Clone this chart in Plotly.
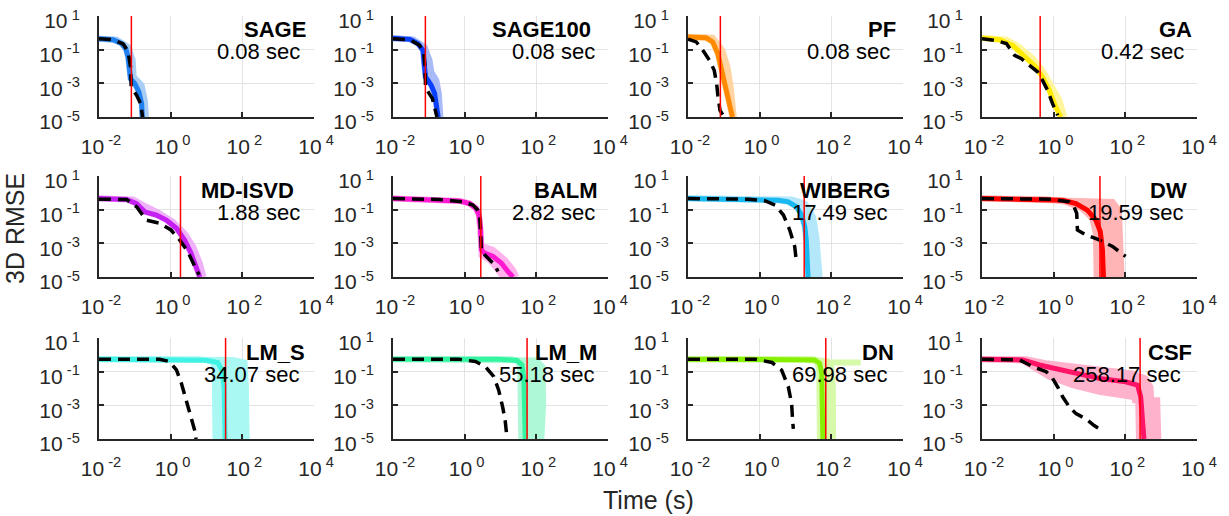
import plotly.graph_objects as go

W, H = 1229, 516

names = ["SAGE", "SAGE100", "PF", "GA", "MD-ISVD", "BALM", "WIBERG", "DW", "LM_S", "LM_M", "DN", "CSF"]
times = [0.08, 0.08, 0.08, 0.42, 1.88, 2.82, 17.49, 19.59, 34.07, 55.18, 69.98, 258.17]
colors = ["#1f80ef", "#0a40ff", "#ff8a00", "#ffea00", "#c51ff2", "#ff1ad2", "#1ab8f0", "#ff0000",
          "#40f2e6", "#33f5a0", "#86f000", "#ff1468"]
band_colors = ["#aacdf6", "#a9baf9", "#ffd4a0", "#fff59c", "#efb2f8", "#ffb2ec", "#b5e7fb", "#ffb5b5",
               "#aaf8f3", "#aef8d8", "#d6faa9", "#ffb2cc"]

xtick_vals = [1e-2, 1, 1e2, 1e4]
xtick_exps = ["-2", "0", "2", "4"]
ytick_vals = [1e1, 1e-1, 1e-3, 1e-5]
ytick_exps = ["1", "-1", "-3", "-5"]

# ---- SAGE
SAGE_med_t = [0.01, 0.025, 0.043, 0.056, 0.065, 0.069, 0.076, 0.1, 0.13, 0.155, 0.162]
SAGE_med_v = [0.45, 0.39, 0.23, 0.115, 0.036, 0.0059, 0.0019, 9.5e-4, 3.1e-4, 6.2e-5, 1e-5]
SAGE_slow_t = [0.01, 0.031, 0.065, 0.087, 0.093, 0.155, 0.19, 0.204]
SAGE_slow_v = [0.45, 0.39, 0.145, 0.023, 0.0024, 7.6e-4, 9.8e-5, 1e-5]
SAGE_best_t = [0.01, 0.025, 0.048, 0.065, 0.076, 0.079, 0.112, 0.145, 0.165]
SAGE_best_v = [0.45, 0.39, 0.21, 0.072, 0.0093, 6.6e-4, 1.95e-4, 6.2e-5, 1e-5]
# ---- SAGE100
SAGE100_med_t = [0.01, 0.030, 0.050, 0.069, 0.076, 0.081, 0.095, 0.117, 0.145, 0.17, 0.182]
SAGE100_med_v = [0.47, 0.41, 0.23, 0.091, 0.0093, 0.0024, 0.0015, 7.6e-4, 2.5e-4, 3.9e-5, 1e-5]
SAGE100_slow_t = [0.01, 0.036, 0.076, 0.105, 0.117, 0.162, 0.19, 0.21]
SAGE100_slow_v = [0.47, 0.41, 0.145, 0.023, 0.0047, 0.0015, 2.5e-4, 1e-5]
SAGE100_best_t = [0.01, 0.030, 0.055, 0.072, 0.078, 0.081, 0.126, 0.162, 0.168]
SAGE100_best_v = [0.45, 0.39, 0.18, 0.072, 0.0093, 5.5e-4, 1.23e-4, 1.26e-5, 1e-5]
# ---- PF
PF_med_t = [0.01, 0.032, 0.049, 0.068, 0.083, 0.102, 0.126, 0.155, 0.174]
PF_med_v = [0.56, 0.51, 0.29, 0.058, 0.0093, 0.0015, 1.95e-4, 2.5e-5, 1e-5]
PF_slow_t = [0.01, 0.049, 0.091, 0.126, 0.155, 0.19]
PF_slow_v = [0.56, 0.51, 0.091, 0.0093, 6e-4, 1e-5]
PF_best_t = [0.01, 0.017, 0.026, 0.040, 0.054, 0.063, 0.068, 0.078, 0.102]
PF_best_v = [0.42, 0.29, 0.091, 0.023, 0.0059, 9.5e-4, 1.95e-4, 2.5e-5, 1e-5]
# ---- GA
GA_med_t = [0.01, 0.031, 0.072, 0.17, 0.32, 0.49, 0.76, 1.15, 1.58]
GA_med_v = [0.49, 0.39, 0.18, 0.036, 0.0093, 0.0024, 3.8e-4, 3.9e-5, 1e-5]
GA_slow_t = [0.01, 0.048, 0.11, 0.26, 0.49, 0.93, 1.45, 2.0]
GA_slow_v = [0.49, 0.39, 0.145, 0.030, 0.0059, 6e-4, 9.8e-5, 1e-5]
GA_best_t = [0.01, 0.025, 0.048, 0.065, 0.081, 0.123, 0.21, 0.36, 0.49, 0.68, 0.93, 1.29]
GA_best_v = [0.45, 0.35, 0.23, 0.091, 0.046, 0.030, 0.0117, 0.0047, 0.0015, 3.8e-4, 6.2e-5, 1.26e-5]
# ---- MD-ISVD
MDISVD_med_t = [0.01, 0.059, 0.112, 0.17, 0.19, 0.40, 0.76, 1.45, 2.45, 3.7, 5.1, 6.5]
MDISVD_med_v = [0.46, 0.40, 0.23, 0.093, 0.074, 0.048, 0.024, 0.0078, 0.0016, 2.6e-4, 4.3e-5, 1e-5]
MDISVD_slow_t = [0.01, 0.089, 0.21, 0.49, 1.15, 2.45, 4.2, 6.5, 8.3]
MDISVD_slow_v = [0.46, 0.40, 0.148, 0.060, 0.019, 0.0039, 6.5e-4, 6.6e-5, 1e-5]
MDISVD_best_t = [0.01, 0.059, 0.112, 0.21, 0.49, 1.02, 1.78, 3.0, 4.7, 6.2]
MDISVD_best_v = [0.42, 0.40, 0.148, 0.024, 0.0155, 0.0062, 0.0016, 3.2e-4, 4.3e-5, 1.35e-5]
# ---- BALM
BALM_med_t = [0.01, 0.20, 0.72, 1.38, 2.1, 2.5, 2.75, 2.95, 3.6, 6.2, 10.5, 16.2, 22.4]
BALM_med_v = [0.46, 0.40, 0.33, 0.23, 0.117, 0.048, 0.0098, 4.1e-4, 2.6e-4, 1.66e-4, 6.8e-5, 2.1e-5, 1e-5]
BALM_fast_t = [0.01, 0.20, 0.72, 1.38, 2.1, 2.5, 2.75, 2.95, 5.0, 8.5, 11.7]
BALM_fast_v = [0.46, 0.40, 0.33, 0.23, 0.117, 0.048, 0.0098, 2.0e-4, 1.05e-4, 2.7e-5, 1e-5]
BALM_slow_t = [0.01, 0.20, 0.72, 1.38, 2.1, 2.5, 2.75, 2.95, 6.2, 13.2, 22.4, 27.5]
BALM_slow_v = [0.46, 0.40, 0.33, 0.23, 0.117, 0.048, 0.0098, 7.1e-4, 4.1e-4, 1.05e-4, 2.7e-5, 1e-5]
BALM_best_t = [0.01, 0.20, 0.89, 1.70, 2.34, 2.63, 2.82, 2.95, 4.5, 6.9, 8.5]
BALM_best_v = [0.46, 0.40, 0.29, 0.186, 0.093, 0.038, 0.0025, 3.2e-4, 1.3e-4, 5.2e-5, 2.1e-5]
# ---- WIBERG
WIBERG_med_t = [0.01, 0.50, 3.3, 6.3, 10.7, 14.8, 18.2, 20, 21.4, 22.4]
WIBERG_med_v = [0.46, 0.42, 0.36, 0.29, 0.148, 0.048, 0.0098, 0.0016, 1.05e-4, 1e-5]
WIBERG_slow_t = [0.01, 1.45, 7.8, 18.2, 31, 38, 44, 47]
WIBERG_slow_v = [0.48, 0.46, 0.40, 0.23, 0.038, 0.0025, 1.05e-4, 1e-5]
WIBERG_best_t = [0.01, 0.50, 1.45, 2.7, 4.6, 6.9, 9.5, 10.7]
WIBERG_best_v = [0.46, 0.42, 0.33, 0.186, 0.048, 0.0062, 6.5e-4, 6.6e-5]
# ---- DW
DW_med_t = [0.01, 0.62, 1.78, 4.2, 8.7, 15.1, 20, 23, 24.5]
DW_med_v = [0.46, 0.42, 0.36, 0.23, 0.093, 0.024, 0.0049, 4.1e-4, 1e-5]
DW_fast_t = [0.01, 0.62, 2.2, 6.3, 12, 15.1, 15.8]
DW_fast_v = [0.46, 0.42, 0.29, 0.117, 0.030, 0.0038, 1e-5]
DW_slow_t = [0.01, 2.2, 44, 66, 74, 79]
DW_slow_v = [0.48, 0.36, 0.29, 0.093, 0.001, 1e-5]
DW_best_t = [0.01, 0.87, 2.72, 3.7, 4.4, 4.6, 7.9, 18.6, 44, 102]
DW_best_v = [0.46, 0.42, 0.29, 0.148, 0.060, 0.0062, 0.0032, 0.0016, 6.5e-4, 1.66e-4]
# ---- LM_S
LMS_med_t = [0.01, 0.76, 9.8, 20.4, 26.9, 30.9, 33.1]
LMS_med_v = [0.55, 0.55, 0.48, 0.35, 0.126, 0.0126, 1e-5]
LMS_fast_t = [0.01, 6.3, 15.1, 17, 17.8]
LMS_fast_v = [0.55, 0.55, 0.40, 0.126, 1e-5]
LMS_slow_t = [0.01, 6.3, 54, 115, 126, 132]
LMS_slow_v = [0.55, 0.55, 0.50, 0.35, 0.0126, 1e-5]
LMS_best_t = [0.01, 0.49, 0.93, 1.45, 2.0, 2.75, 3.7, 4.7, 5.1]
LMS_best_v = [0.55, 0.55, 0.40, 0.126, 0.020, 0.0020, 2.0e-4, 3.2e-5, 1e-5]
# ---- LM_M
LMM_med_t = [0.01, 8.9, 29, 40, 45, 49]
LMM_med_v = [0.55, 0.55, 0.46, 0.25, 0.032, 1e-5]
LMM_fast_t = [0.01, 21, 32, 35.5, 38]
LMM_fast_v = [0.55, 0.55, 0.40, 0.126, 1e-5]
LMM_slow_t = [0.01, 21, 102, 148, 155, 138]
LMM_slow_v = [0.55, 0.55, 0.46, 0.20, 0.00126, 1e-5]
LMM_best_t = [0.01, 0.69, 2.0, 3.8, 6.5, 8.9, 11.5, 13.5, 15.1]
LMM_best_v = [0.55, 0.55, 0.40, 0.20, 0.050, 0.0079, 7.9e-4, 1.26e-4, 1.26e-5]
# ---- DN
DN_med_t = [0.01, 11.7, 34, 47, 54, 58]
DN_med_v = [0.55, 0.55, 0.50, 0.32, 0.079, 1e-5]
DN_fast_t = [0.01, 20, 40, 46, 48]
DN_fast_v = [0.55, 0.55, 0.40, 0.126, 1e-5]
DN_slow_t = [0.01, 27.5, 79, 98, 110, 112]
DN_slow_v = [0.55, 0.55, 0.40, 0.20, 0.0126, 1e-5]
DN_stall_t = [0.01, 27.5, 65, 661]
DN_stall_v = [0.55, 0.55, 0.35, 0.35]
DN_best_t = [0.01, 0.76, 2.2, 4.1, 6.3, 7.8, 8.3, 8.7]
DN_best_v = [0.55, 0.55, 0.35, 0.126, 0.0126, 0.00126, 1.26e-4, 4e-5]
# ---- CSF
CSF_med_t = [0.01, 0.138, 0.40, 1.15, 4.2, 18.6, 102, 219, 269, 309, 331]
CSF_med_v = [0.55, 0.50, 0.25, 0.158, 0.079, 0.040, 0.025, 0.0158, 0.0032, 1.26e-4, 1e-5]
CSF_fast_t = [0.01, 0.138, 0.26, 0.76, 3.4, 18.6, 155, 229, 240]
CSF_fast_v = [0.55, 0.46, 0.20, 0.050, 0.0158, 0.0063, 0.0032, 0.0020, 1e-5]
CSF_slow_t = [0.01, 0.17, 0.60, 3.4, 29, 155, 363, 501, 631]
CSF_slow_v = [0.55, 0.55, 0.32, 0.20, 0.126, 0.079, 0.040, 0.0126, 1e-5]
CSF_stall_t = [155, 776, 832]
CSF_stall_v = [0.0020, 0.0020, 1e-5]
CSF_best_t = [0.01, 0.112, 0.26, 0.62, 0.93, 1.29, 1.78, 2.75, 4.2, 7.9, 13.5, 22.9]
CSF_best_v = [0.55, 0.50, 0.20, 0.10, 0.040, 0.0126, 0.0032, 7.9e-4, 3.2e-4, 1.58e-4, 6.3e-5, 3.2e-5]

# (median, fast run, slow run, extra runs, best run)
series = [
    ((SAGE_med_t, SAGE_med_v), (SAGE_med_t, SAGE_med_v), (SAGE_slow_t, SAGE_slow_v), [], (SAGE_best_t, SAGE_best_v)),
    ((SAGE100_med_t, SAGE100_med_v), (SAGE100_med_t, SAGE100_med_v), (SAGE100_slow_t, SAGE100_slow_v), [], (SAGE100_best_t, SAGE100_best_v)),
    ((PF_med_t, PF_med_v), (PF_med_t, PF_med_v), (PF_slow_t, PF_slow_v), [], (PF_best_t, PF_best_v)),
    ((GA_med_t, GA_med_v), (GA_med_t, GA_med_v), (GA_slow_t, GA_slow_v), [], (GA_best_t, GA_best_v)),
    ((MDISVD_med_t, MDISVD_med_v), (MDISVD_med_t, MDISVD_med_v), (MDISVD_slow_t, MDISVD_slow_v), [], (MDISVD_best_t, MDISVD_best_v)),
    ((BALM_med_t, BALM_med_v), (BALM_fast_t, BALM_fast_v), (BALM_slow_t, BALM_slow_v), [], (BALM_best_t, BALM_best_v)),
    ((WIBERG_med_t, WIBERG_med_v), (WIBERG_med_t, WIBERG_med_v), (WIBERG_slow_t, WIBERG_slow_v), [], (WIBERG_best_t, WIBERG_best_v)),
    ((DW_med_t, DW_med_v), (DW_fast_t, DW_fast_v), (DW_slow_t, DW_slow_v), [], (DW_best_t, DW_best_v)),
    ((LMS_med_t, LMS_med_v), (LMS_fast_t, LMS_fast_v), (LMS_slow_t, LMS_slow_v), [], (LMS_best_t, LMS_best_v)),
    ((LMM_med_t, LMM_med_v), (LMM_fast_t, LMM_fast_v), (LMM_slow_t, LMM_slow_v), [], (LMM_best_t, LMM_best_v)),
    ((DN_med_t, DN_med_v), (DN_fast_t, DN_fast_v), (DN_slow_t, DN_slow_v), [(DN_stall_t, DN_stall_v)], (DN_best_t, DN_best_v)),
    ((CSF_med_t, CSF_med_v), (CSF_fast_t, CSF_fast_v), (CSF_slow_t, CSF_slow_v), [(CSF_stall_t, CSF_stall_v)], (CSF_best_t, CSF_best_v)),
]

# layout geometry (pixels)
col_left = [99, 393, 688, 982]
row_top = [16, 176, 338]
ax_w, ax_h = 215, 101
name_right = [308, 593, 898, 1194, 296, 600, 892, 1189, 307, 599, 896, 1194]
time_right = [302, 597, 892, 1186, 302, 597, 889, 1185, 301, 596, 889, 1183]

FONT = "Liberation Sans, Arial, Helvetica, sans-serif"
AXC = "#262626"

fig = go.Figure()
annotations = []
shapes = []
layout = {}

for i in range(12):
    r, c = divmod(i, 4)
    k = "" if i == 0 else str(i + 1)
    xa, ya = "x" + k, "y" + k
    L, T = col_left[c], row_top[r]
    (mt, mv), (ft, fv), (st, sv), extras, (bt, bv) = series[i]
    bc = band_colors[i]
    fig.add_trace(go.Scatter(x=list(ft) + list(st)[::-1], y=list(fv) + list(sv)[::-1], mode="lines",
                             fill="toself", fillcolor=bc, line=dict(width=0, color=bc),
                             xaxis=xa, yaxis=ya, hoverinfo="skip", showlegend=False))
    for (et, ev) in [(ft, fv), (st, sv)] + extras:
        fig.add_trace(go.Scatter(x=et, y=ev, mode="lines", line=dict(color=bc, width=6),
                                 xaxis=xa, yaxis=ya, hoverinfo="skip", showlegend=False))
    fig.add_trace(go.Scatter(x=mt, y=mv, mode="lines", line=dict(color=colors[i], width=5),
                             xaxis=xa, yaxis=ya, showlegend=False))
    fig.add_trace(go.Scatter(x=bt, y=bv, mode="lines", line=dict(color="black", width=3.5, dash="12px,7px"),
                             xaxis=xa, yaxis=ya, showlegend=False))

    common = dict(
        showgrid=True, gridcolor="#e3e3e3", gridwidth=1,
        showline=True, linecolor=AXC, linewidth=2, zeroline=False,
        ticks="inside", ticklen=5, tickwidth=1.5, tickcolor=AXC,
        tickfont=dict(family=FONT, size=21, color=AXC), automargin=False,
        ticklabeloverflow="allow",
    )
    layout["xaxis" + k] = dict(
        type="log", range=[-2, 4], domain=[L / W, (L + ax_w) / W], anchor=ya,
        tickmode="array", tickvals=xtick_vals,
        ticktext=["10<sup> %s</sup>" % e for e in xtick_exps],
        ticklabelstandoff=10, ticklabelshift=2, **common,
    )
    layout["yaxis" + k] = dict(
        type="log", range=[-5, 1], domain=[1 - (T + ax_h) / H, 1 - T / H], anchor=xa,
        tickmode="array", tickvals=ytick_vals,
        ticktext=["10<sup> %s</sup>" % e for e in ytick_exps],
        ticklabelstandoff=13, ticklabelshift=5, **common,
    )
    shapes.append(dict(type="line", xref=xa, yref=ya + " domain", x0=times[i], x1=times[i], y0=0, y1=1,
                       line=dict(color="#ff0000", width=1.5)))
    annotations.append(dict(text="<b>%s</b>" % names[i], xref="paper", yref="paper",
                            x=name_right[i] / W, y=1 - (T + 14) / H, xanchor="right", yanchor="middle",
                            showarrow=False, font=dict(family=FONT, size=22, color="black")))
    annotations.append(dict(text="%.2f sec" % times[i], xref="paper", yref="paper",
                            x=time_right[i] / W, y=1 - (T + 36) / H, xanchor="right", yanchor="middle",
                            showarrow=False, font=dict(family=FONT, size=22, color="black")))

annotations.append(dict(text="3D RMSE", xref="paper", yref="paper", x=15 / W, y=1 - 229 / H,
                        textangle=-90, xanchor="center", yanchor="middle", showarrow=False,
                        font=dict(family=FONT, size=25, color=AXC)))
annotations.append(dict(text="Time (s)", xref="paper", yref="paper", x=648 / W, y=1 - 500 / H,
                        xanchor="center", yanchor="middle", showarrow=False,
                        font=dict(family=FONT, size=25, color=AXC)))

fig.update_layout(width=W, height=H, margin=dict(l=0, r=0, t=0, b=0), autosize=False,
                  paper_bgcolor="white", plot_bgcolor="white", showlegend=False,
                  annotations=annotations, shapes=shapes, hovermode=False, **layout)

fig.write_html("out.html", config={"displayModeBar": False},
               post_script="document.body.style.margin='0';document.body.style.padding='0';"
                           "document.body.style.overflow='hidden';")
